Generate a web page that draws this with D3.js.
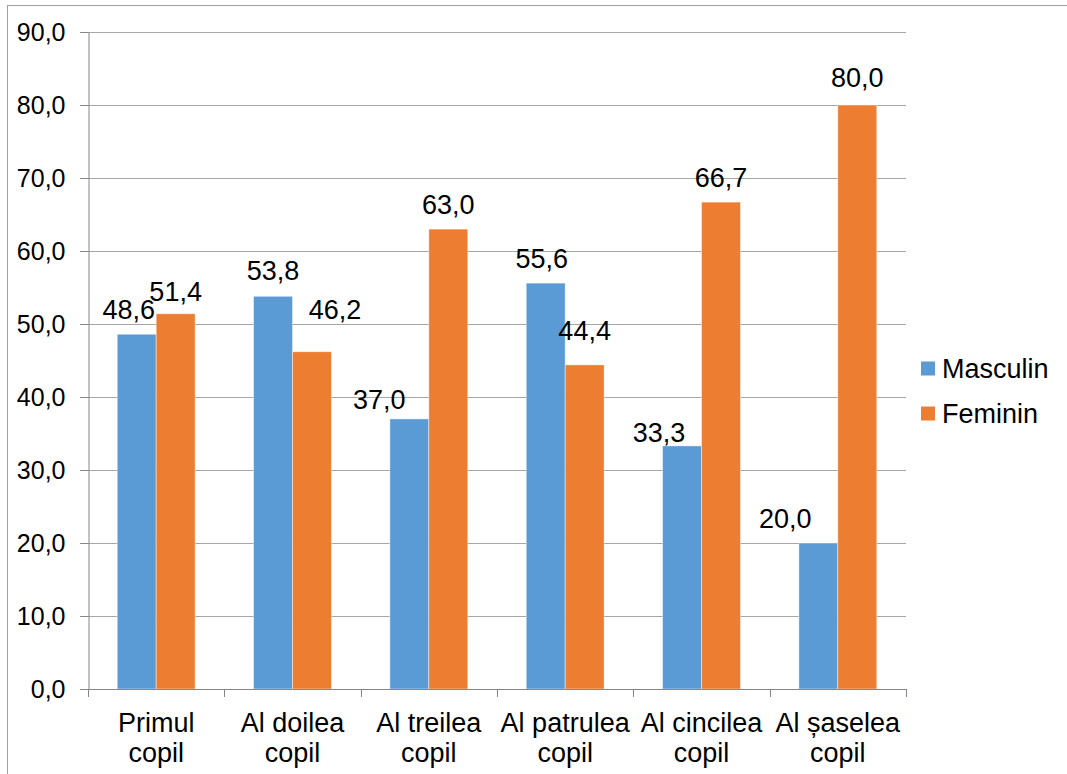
<!DOCTYPE html>
<html>
<head>
<meta charset="utf-8">
<script src="https://cdn.jsdelivr.net/npm/d3@7"></script>
<style>
  html, body { margin: 0; padding: 0; background: #fff; }
  svg { display: block; }
  text { font-family: "Liberation Sans", Arial, sans-serif; fill: #000; }
</style>
</head>
<body>
<svg id="chart" width="1067" height="774"></svg>
<script>
// ---- data ----
const categories = [
  ["Primul", "copil"],
  ["Al doilea", "copil"],
  ["Al treilea", "copil"],
  ["Al patrulea", "copil"],
  ["Al cincilea", "copil"],
  ["Al șaselea", "copil"]
];
const seriesNames = ["Masculin", "Feminin"];
const masculin = [48.6, 53.8, 37.0, 55.6, 33.3, 20.0];
const feminin  = [51.4, 46.2, 63.0, 44.4, 66.7, 80.0];
const yTicks = [0, 10, 20, 30, 40, 50, 60, 70, 80, 90];

// label nudges (px) relative to default placement above bar top
const labelNudgeM = [[-8, 0], [0, -1], [-30, 5], [-4, 0], [-23, 11], [-33, 0]];
const labelNudgeF = [[0, 2], [23, -17], [0, 0], [0, -10], [0, 0], [0, -3]];

const colors = ["#5b9bd5", "#ed7d31"];
const fmt = v => d3.format(".1f")(v).replace(".", ",");

(function () {
// ---- layout ----
const svg = d3.select("#chart");
const pLeft = 88, pRight = 906, pTop = 32, pBottom = 689;
const fontSize = 27;
const tickFont = 25;

// outer border
svg.append("rect")
  .attr("x", 7.5).attr("y", 5.5)
  .attr("width", 1070).attr("height", 780)
  .attr("fill", "none").attr("stroke", "#a0a0a0").attr("stroke-width", 1);

const y = d3.scaleLinear().domain([0, 90]).range([pBottom, pTop]);
const x = d3.scaleBand().domain(d3.range(categories.length)).range([pLeft, pRight]).paddingInner(0).paddingOuter(0);
const bw = x.bandwidth();
const barW = bw / 3.5;
const xs = d3.scaleBand().domain(seriesNames).range([(bw - 2 * barW) / 2, (bw + 2 * barW) / 2]).padding(0);

// gridlines
svg.append("g").selectAll("line").data(yTicks.filter(t => t > 0)).join("line")
  .attr("x1", pLeft - 8).attr("x2", pRight)
  .attr("y1", d => Math.round(y(d)) + 0.5).attr("y2", d => Math.round(y(d)) + 0.5)
  .attr("stroke", "#a6a6a6").attr("stroke-width", 1);

// bars
const data = categories.map((c, i) => [
  { s: 0, name: seriesNames[0], i, v: masculin[i] },
  { s: 1, name: seriesNames[1], i, v: feminin[i] }
]).flat();

svg.append("g").selectAll("rect").data(data).join("rect")
  .attr("x", d => x(d.i) + xs(d.name))
  .attr("y", d => y(d.v))
  .attr("width", xs.bandwidth())
  .attr("height", d => y(0) - y(d.v))
  .attr("fill", d => colors[d.s])
  .attr("stroke", "#ffffff").attr("stroke-opacity", 0.6).attr("stroke-width", 0.75);

// y axis
const yAxis = svg.append("g").attr("transform", `translate(${pLeft + 0.5},0)`)
  .call(d3.axisLeft(y).tickValues(yTicks).tickSize(8).tickSizeOuter(0).tickPadding(15).tickFormat(fmt));
yAxis.select(".domain").attr("stroke", "#868686");
yAxis.selectAll(".tick line").attr("stroke", "#868686");
yAxis.selectAll(".tick text")
  .attr("font-size", tickFont).attr("font-family", "Liberation Sans, Arial, sans-serif").attr("fill", "#000");

// x axis baseline
svg.append("line")
  .attr("x1", pLeft - 8).attr("x2", pRight)
  .attr("y1", Math.round(y(0)) + 0.5).attr("y2", Math.round(y(0)) + 0.5)
  .attr("stroke", "#868686").attr("stroke-width", 1);

// x boundary ticks
svg.append("g").selectAll("line").data(d3.range(categories.length + 1)).join("line")
  .attr("x1", i => Math.round(pLeft + i * bw) + 0.5).attr("x2", i => Math.round(pLeft + i * bw) + 0.5)
  .attr("y1", pBottom).attr("y2", pBottom + 8)
  .attr("stroke", "#868686").attr("stroke-width", 1);

// x labels
const xl = svg.append("g").selectAll("text").data(categories).join("text")
  .attr("text-anchor", "middle")
  .attr("font-size", fontSize)
  .attr("x", (d, i) => x(i) + bw / 2)
  .attr("y", 732);
xl.selectAll("tspan").data(d => d).join("tspan")
  .attr("x", function() { return d3.select(this.parentNode).attr("x"); })
  .attr("dy", (d, j) => j === 0 ? 0 : 30)
  .text(d => d);

// data labels
svg.append("g").selectAll("text").data(data).join("text")
  .attr("text-anchor", "middle")
  .attr("font-size", fontSize)
  .attr("x", d => x(d.i) + xs(d.name) + xs.bandwidth() / 2 + (d.s === 0 ? labelNudgeM : labelNudgeF)[d.i][0])
  .attr("y", d => y(d.v) - 25 + (d.s === 0 ? labelNudgeM : labelNudgeF)[d.i][1] + fontSize * 0.36)
  .text(d => fmt(d.v));

// legend
const lg = svg.append("g").selectAll("g").data(seriesNames).join("g")
  .attr("transform", (d, i) => `translate(921, ${368.5 + i * 45})`);
lg.append("rect").attr("x", 0).attr("y", -7).attr("width", 14).attr("height", 14)
  .attr("fill", (d, i) => colors[i]);
lg.append("text").attr("x", 21).attr("y", fontSize * 0.36).attr("font-size", fontSize).text(d => d);
})();
</script>
</body>
</html>
